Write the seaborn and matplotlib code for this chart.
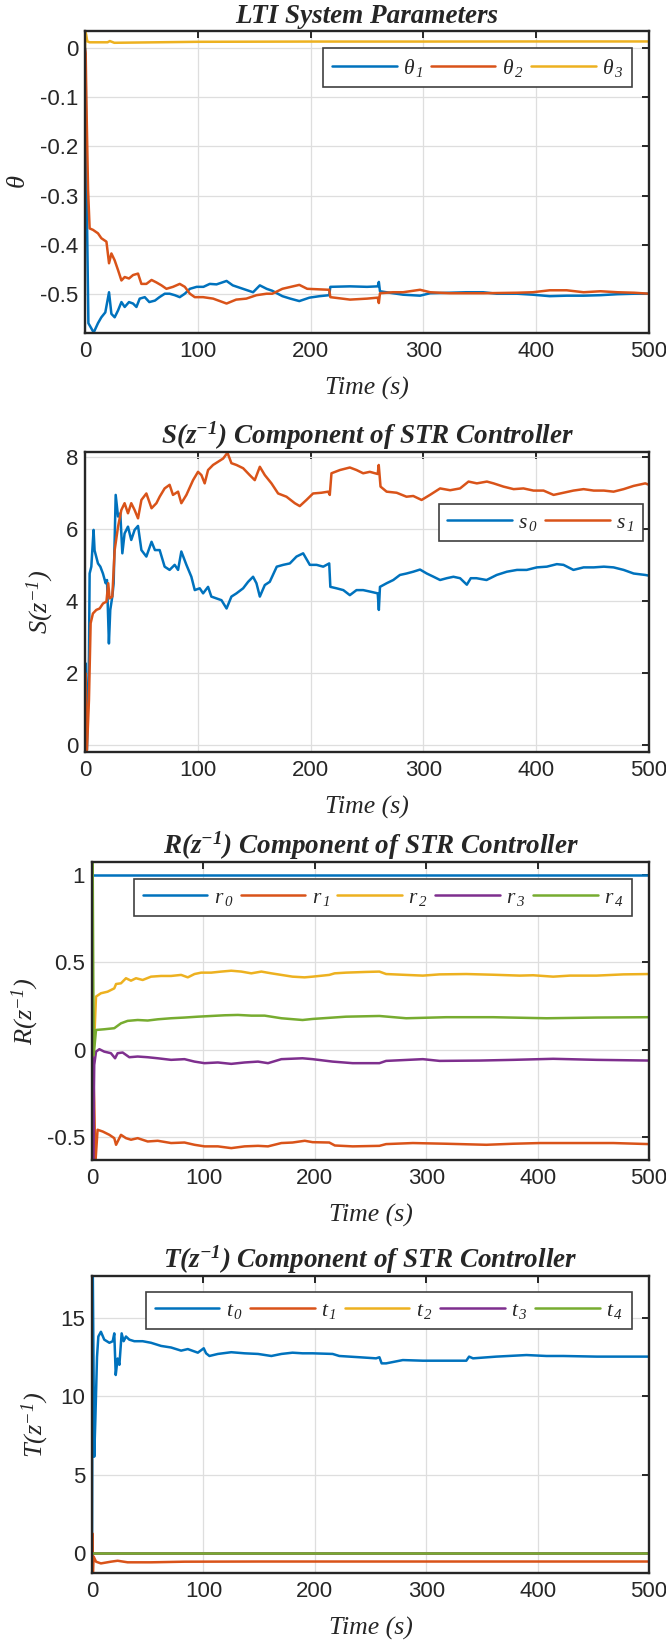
import matplotlib
matplotlib.use("Agg")
import matplotlib.pyplot as plt
import seaborn as sns
from matplotlib.font_manager import FontProperties
from matplotlib.ticker import FuncFormatter

# ---------------- data ----------------
theta1_t = [0, 0.6, 1.5, 3, 7.7, 11.5, 14.5, 18, 21.3, 23.4, 26.3, 29.3, 32.3, 35.2, 39, 42.6, 45.6, 48.5, 53, 57,
            62, 66, 70.7, 75, 79.6, 84, 88.5, 93, 99, 105, 110.6, 116.6, 125.5, 131, 140, 149, 155, 161, 166, 175,
            182, 190, 199, 208, 216.5, 217.5, 235, 250, 259.5, 260.5, 261.5, 273, 282, 297, 306, 323, 338, 353, 365, 383,
            397, 412, 427, 442, 457, 472, 487, 500]
theta1_v = [0, -0.05, -0.3, -0.56, -0.579, -0.56, -0.548, -0.538, -0.497, -0.541, -0.548, -0.534, -0.517, -0.527, -0.517,
            -0.52, -0.527, -0.51, -0.507, -0.517, -0.514, -0.507, -0.5, -0.5, -0.503, -0.507, -0.5, -0.49, -0.486, -0.486,
            -0.48, -0.481, -0.474, -0.483, -0.49, -0.497, -0.483, -0.49, -0.494, -0.505, -0.51, -0.515, -0.508, -0.505,
            -0.503, -0.486, -0.485, -0.486, -0.485, -0.476, -0.495, -0.499, -0.502, -0.504, -0.499, -0.498, -0.497,
            -0.497, -0.5, -0.5, -0.502, -0.505, -0.504, -0.504, -0.503, -0.501, -0.5, -0.5]
theta2_t = [0, 0.6, 1.2, 2.7, 4.1, 7.1, 11.5, 14.5, 19, 21.3, 23.4, 26.3, 29.3, 32.3, 35.2, 39, 42.6, 47, 50, 54.4,
            59, 63.3, 67.8, 72.2, 78, 84, 88.5, 93, 97.3, 104.7, 113.6, 125.5, 134, 143, 152, 161, 166, 175, 190, 197,
            216.5, 217.5, 235, 250, 259.5, 260.5, 261.5, 273, 282, 297, 306, 323, 353, 383, 397, 412, 427, 442, 457, 472,
            487, 500]
theta2_v = [0, -0.01, -0.104, -0.288, -0.367, -0.37, -0.377, -0.387, -0.394, -0.438, -0.418, -0.432, -0.452, -0.473,
            -0.466, -0.469, -0.462, -0.459, -0.48, -0.48, -0.472, -0.477, -0.483, -0.49, -0.486, -0.48, -0.486, -0.5,
            -0.507, -0.507, -0.51, -0.52, -0.512, -0.51, -0.503, -0.5, -0.5, -0.49, -0.482, -0.49, -0.492, -0.507,
            -0.512, -0.51, -0.508, -0.519, -0.499, -0.497, -0.497, -0.492, -0.497, -0.499, -0.499, -0.498, -0.497,
            -0.493, -0.493, -0.497, -0.495, -0.497, -0.498, -0.5]
theta3_t = [0, 0.3, 1, 2, 4, 20, 22, 26, 100, 200, 300, 400, 500]
theta3_v = [0, 0.034, 0.028, 0.014, 0.012, 0.012, 0.0145, 0.011, 0.013, 0.0135, 0.0135, 0.0137, 0.0137]

s0_t = [0, 0.5, 1.7, 3.5, 4.1, 5.6, 7.6, 8.5, 11.5, 13.6, 15.9, 18.3, 19.5, 21.2, 22.4, 24.2, 25.4, 27.2, 29.3, 31.3,
        33.1, 35.1, 38.1, 41, 44, 47, 50, 54.4, 59, 62, 66.2, 70.6, 75, 79.5, 82.5, 85.4, 89.9, 94.3, 97.3, 101.7,
        104.7, 109.1, 112, 116.5, 121, 125.5, 129.8, 134.3, 140.2, 144.6, 149, 152, 155, 159.4, 163.8, 170, 175.7,
        181.6, 187.5, 193.4, 199.3, 205.3, 211.2, 216.5, 217.5, 223, 229, 234.8, 240.7, 246.6, 252.5, 259.5, 260.5,
        261.5, 267.4, 273.3, 279.2, 285, 291, 297, 303, 309, 314.8, 320.7, 326.6, 332.5, 338.5, 342, 347, 356, 365,
        374, 383, 391.6, 400.5, 409.4, 418.3, 424.2, 433, 442, 451, 460, 468.6, 477.5, 486.4, 496.7, 500]
s0_v = [0, 2.27, -0.14, 2.45, 4.76, 4.95, 5.97, 5.4, 5.04, 4.95, 4.76, 4.49, 4.58, 2.82, 3.75, 4.12, 4.49, 6.94, 6.34,
        6.43, 5.32, 5.87, 6.06, 5.69, 5.97, 6.08, 5.41, 5.23, 5.64, 5.41, 5.41, 4.95, 4.86, 5.0, 4.86, 5.37, 5.0, 4.67,
        4.3, 4.35, 4.21, 4.39, 4.12, 4.07, 4.02, 3.79, 4.12, 4.21, 4.35, 4.53, 4.67, 4.49, 4.12, 4.44, 4.53, 4.95, 5.0,
        5.04, 5.23, 5.32, 5.0, 5.0, 4.95, 5.04, 4.39, 4.35, 4.3, 4.16, 4.3, 4.3, 4.26, 4.21, 3.75, 4.39, 4.49, 4.58,
        4.72, 4.76, 4.81, 4.87, 4.76, 4.67, 4.58, 4.63, 4.67, 4.63, 4.45, 4.63, 4.63, 4.58, 4.72, 4.81, 4.86, 4.86,
        4.93, 4.95, 5.02, 5.0, 4.86, 4.93, 4.93, 4.95, 4.93, 4.86, 4.76, 4.72, 4.7]
s1_t = [0, 0.5, 1.7, 3.5, 5, 7, 10, 13, 16, 19, 20.6, 21.8, 24.2, 26.3, 29.3, 32.2, 35.1, 38.1, 41, 44, 47, 50, 54.4,
        59, 63.3, 66.2, 70.6, 75, 78, 82.5, 85.4, 89.9, 95.8, 100.2, 103.2, 106.1, 109.1, 113.5, 118, 122.5, 126.3,
        129.8, 134.3, 140.2, 146, 150.5, 155, 159.4, 165.3, 171.2, 178.6, 186, 190.4, 196.3, 202.2, 209.6, 215.6,
        217, 218.5, 226, 234.8, 240.7, 246.6, 252.5, 259.5, 260.4, 262, 267.4, 276.3, 285, 291, 298.4, 305.8, 314.8,
        323.7, 332.5, 340, 347.4, 356.3, 362.2, 371, 380, 388.7, 397.6, 406.5, 415.4, 424.2, 433, 442, 451, 460,
        468.6, 477.5, 486.4, 496.7, 500]
s1_v = [0, 1.99, -0.14, 1.25, 3.38, 3.65, 3.75, 3.79, 3.93, 3.98, 4.49, 4.07, 4.12, 5.41, 6.06, 6.52, 6.71, 6.43, 6.71,
        6.52, 6.29, 6.8, 6.98, 6.57, 6.71, 6.89, 7.12, 7.22, 6.94, 7.03, 6.71, 6.94, 7.35, 7.58, 7.49, 7.26, 7.63, 7.77,
        7.86, 7.95, 8.11, 7.82, 7.77, 7.68, 7.49, 7.35, 7.72, 7.49, 7.26, 6.98, 6.89, 6.71, 6.63, 6.8, 6.98, 7.0, 7.03,
        6.94, 7.54, 7.63, 7.7, 7.63, 7.54, 7.58, 7.52, 7.77, 7.17, 7.03, 7.0, 6.89, 6.91, 6.8, 6.94, 7.12, 7.07, 7.12,
        7.31, 7.26, 7.31, 7.26, 7.17, 7.1, 7.12, 7.06, 7.06, 6.94, 7.0, 7.06, 7.1, 7.06, 7.06, 7.03, 7.1, 7.19, 7.26,
        7.22]

r0_t = [0, 500]
r0_v = [1, 1]
r1_t = [0, 1, 2, 3, 5, 9.6, 15.6, 20, 21.6, 26, 30.5, 35, 41, 50, 59, 71, 83, 92, 101, 113, 125, 137, 149, 158, 170,
        180, 191, 198, 213, 218, 234, 258, 264, 288, 318, 354, 378, 402, 438, 468, 500]
r1_v = [0, -0.1, -0.3, -0.65, -0.457, -0.467, -0.486, -0.505, -0.543, -0.486, -0.505, -0.514, -0.505, -0.524, -0.52,
        -0.533, -0.53, -0.543, -0.552, -0.552, -0.562, -0.552, -0.549, -0.552, -0.533, -0.53, -0.52, -0.528, -0.53,
        -0.547, -0.552, -0.549, -0.539, -0.533, -0.537, -0.543, -0.537, -0.533, -0.533, -0.533, -0.539]
r2_t = [0, 1.5, 3.6, 8, 14, 20, 21.6, 26, 30.5, 35, 39.5, 45.5, 53, 62, 71, 80, 86, 92, 98, 107, 116, 125, 134, 143,
        152, 161, 170, 180, 190.8, 198, 213, 217.8, 228, 246, 258, 264, 282, 297, 312, 336, 360, 384, 396, 414, 429,
        453, 477, 500]
r2_v = [0, -0.02, 0.305, 0.324, 0.333, 0.352, 0.377, 0.381, 0.41, 0.396, 0.41, 0.4, 0.419, 0.423, 0.423, 0.429, 0.415,
        0.434, 0.442, 0.442, 0.448, 0.453, 0.448, 0.438, 0.448, 0.438, 0.429, 0.419, 0.415, 0.419, 0.429, 0.438,
        0.442, 0.446, 0.448, 0.434, 0.429, 0.425, 0.432, 0.434, 0.43, 0.425, 0.427, 0.419, 0.425, 0.425, 0.432, 0.434]
r3_t = [0, 0.5, 1, 2, 3.6, 6.6, 11, 17, 20.7, 23, 27.5, 33.5, 41, 50, 59, 71, 83, 92, 101, 113, 125, 137, 149, 158,
        170, 189, 198, 216, 234, 258, 264, 297, 312, 348, 378, 414, 453, 500]
r3_v = [0, -0.05, -0.65, -0.086, -0.01, 0.004, -0.01, -0.019, -0.048, -0.019, -0.015, -0.042, -0.038, -0.042, -0.048,
        -0.057, -0.053, -0.067, -0.076, -0.072, -0.08, -0.072, -0.067, -0.076, -0.053, -0.048, -0.053, -0.067,
        -0.076, -0.076, -0.063, -0.053, -0.063, -0.061, -0.057, -0.051, -0.057, -0.061]
r4_t = [0, 0.5, 1.5, 3.6, 11, 20, 26, 32, 41, 50, 59, 71, 83, 95, 107, 119, 131, 143, 155, 170, 189, 198, 228, 258,
        282, 318, 360, 408, 453, 500]
r4_v = [0, 1.2, -0.03, 0.114, 0.118, 0.124, 0.152, 0.166, 0.171, 0.168, 0.175, 0.181, 0.185, 0.19, 0.194, 0.198, 0.2,
        0.196, 0.196, 0.181, 0.171, 0.177, 0.19, 0.194, 0.181, 0.187, 0.187, 0.181, 0.185, 0.187]

t0_t = [0, 0.6, 2, 3, 4.5, 5.7, 8, 11, 15.6, 18.6, 20, 21.3, 23, 24.6, 26.6, 28.4, 30.5, 33.5, 38, 45.5, 53, 62, 71,
        80, 86, 95, 100.3, 102.4, 105.4, 113, 125, 137, 149, 161, 170, 180, 189, 198, 216, 222, 240, 255, 258, 260,
        264, 279, 297, 318, 336, 338.5, 342, 363, 390, 408, 423, 453, 500]
t0_v = [0, 19.0, 6.15, 8.5, 12.5, 13.8, 14.1, 13.6, 13.4, 13.5, 14.0, 11.35, 12.4, 12.0, 14.0, 13.5, 13.8, 13.6, 13.5,
        13.5, 13.4, 13.2, 13.1, 12.9, 13.0, 12.77, 13.05, 12.73, 12.56, 12.69, 12.8, 12.73, 12.69, 12.56, 12.69,
        12.77, 12.73, 12.73, 12.69, 12.56, 12.48, 12.41, 12.48, 12.09, 12.09, 12.3, 12.26, 12.26, 12.26, 12.52,
        12.41, 12.52, 12.62, 12.56, 12.56, 12.52, 12.52]
t1_t = [0, 0.3, 0.8, 1.5, 3.6, 8, 17, 23, 32, 53, 83, 150, 250, 350, 500]
t1_v = [0, 1.27, -1.3, -0.21, -0.53, -0.64, -0.53, -0.47, -0.57, -0.57, -0.53, -0.52, -0.52, -0.52, -0.52]
t2_t = [0, 500]
t2_v = [0, 0]
t3_t = [0, 500]
t3_v = [0, 0]
t4_t = [0, 500]
t4_v = [0, 0]

time_ticks = [0, 100, 200, 300, 400, 500]
theta_ticks = [-0.5, -0.4, -0.3, -0.2, -0.1, 0]
s_ticks = [0, 2, 4, 6, 8]
r_ticks = [-0.5, 0, 0.5, 1]
t_ticks = [0, 5, 10, 15]

# ---------------- style ----------------
sns.set_theme(style="white")
plt.rcParams.update({
    "font.family": ["Liberation Sans", "DejaVu Sans"],
    "axes.unicode_minus": False,
    "mathtext.fontset": "custom",
    "mathtext.rm": "Liberation Serif:italic",
    "mathtext.it": "Liberation Serif:italic",
    "mathtext.bf": "Liberation Serif:bold:italic",
})

C = ["#0072BD", "#D95319", "#EDB120", "#7E2F8E", "#77AC30"]
DARK = "#262626"
W, H = 666, 1641

fig = plt.figure(figsize=(W / 100, H / 100), dpi=100)
fig.patch.set_facecolor("white")

serif_it = dict(family="Liberation Serif", style="italic")
leg_font = FontProperties(family="Liberation Serif", style="italic", size=15.5)


def make_axes(l, t, r, b):
    return fig.add_axes([l / W, 1 - b / H, (r - l) / W, (b - t) / H])


def draw(ax, series, labels):
    for i, (tt, vv) in enumerate(series):
        sns.lineplot(x=tt, y=vv, ax=ax, color=C[i], lw=1.8, label=labels[i],
                     estimator=None, sort=False, errorbar=None)


def style(ax, box, ylim, yticks, title, ylabel, ylab_right_px, legbox, ncol):
    l, t, r, b = box
    ax.set_xlim(0, 500)
    ax.set_ylim(*ylim)
    ax.set_xticks(time_ticks)
    ax.set_yticks(yticks)
    ax.yaxis.set_major_formatter(FuncFormatter(lambda v, p: "%g" % round(v, 6)))
    ax.grid(True, color="#dedede", lw=0.9)
    ax.set_axisbelow(True)
    for s in ax.spines.values():
        s.set_color(DARK)
        s.set_linewidth(1.7)
    ax.tick_params(direction="in", top=True, right=True, length=5, width=1.4,
                   color=DARK, labelcolor=DARK, labelsize=16)
    ax.tick_params(axis="x", pad=6)
    ax.tick_params(axis="y", pad=5)
    ax.set_title(title, fontsize=19.5, fontweight="bold", pad=6, **serif_it)
    ax.set_xlabel("Time (s)", fontsize=18.5, color=DARK, **serif_it)
    ax.xaxis.set_label_coords(0.5, -44 / (b - t))
    ax.set_ylabel(ylabel, fontsize=19, color=DARK, **serif_it)
    ax.yaxis.set_label_coords((ylab_right_px - l) / (r - l), 0.5)
    handles, labs = ax.get_legend_handles_labels()
    lr, lt = legbox
    leg = ax.legend(handles, labs, ncol=ncol, loc="upper right",
                    bbox_to_anchor=(lr / W, 1 - lt / H), bbox_transform=fig.transFigure,
                    frameon=True, fancybox=False, framealpha=1, edgecolor="#404040",
                    prop=leg_font, handlelength=3.0, handletextpad=0.3, columnspacing=0.35,
                    borderpad=0.4, borderaxespad=0)
    leg.get_frame().set_linewidth(1.2)


# Panel 1
box1 = (85, 31, 649, 333)
ax1 = make_axes(*box1)
draw(ax1, [(theta1_t, theta1_v), (theta2_t, theta2_v), (theta3_t, theta3_v)],
     [r"$\theta_{\,1}$", r"$\theta_{\,2}$", r"$\theta_{\,3}$"])
style(ax1, box1, (-0.58, 0.035), theta_ticks, "LTI System Parameters", r"$\theta$", 30,
      (632, 48), 3)

# Panel 2
box2 = (85, 452, 649, 752)
ax2 = make_axes(*box2)
draw(ax2, [(s0_t, s0_v), (s1_t, s1_v)], [r"$s_{\,0}$", r"$s_{\,1}$"])
style(ax2, box2, (-0.19, 8.13), s_ticks, r"S(z$^{\mathbf{-1}}$) Component of STR Controller",
      r"S(z$^{-1}$)", 56, (643, 504), 2)

# Panel 3
box3 = (92, 862, 649, 1160)
ax3 = make_axes(*box3)
draw(ax3, [(r0_t, r0_v), (r1_t, r1_v), (r2_t, r2_v), (r3_t, r3_v), (r4_t, r4_v)],
     [r"$r_{\,0}$", r"$r_{\,1}$", r"$r_{\,2}$", r"$r_{\,3}$", r"$r_{\,4}$"])
style(ax3, box3, (-0.63, 1.075), r_ticks, r"R(z$^{\mathbf{-1}}$) Component of STR Controller",
      r"R(z$^{-1}$)", 41, (632, 879), 5)

# Panel 4
box4 = (92, 1276, 649, 1573)
ax4 = make_axes(*box4)
draw(ax4, [(t0_t, t0_v), (t1_t, t1_v), (t2_t, t2_v), (t3_t, t3_v), (t4_t, t4_v)],
     [r"$t_{\,0}$", r"$t_{\,1}$", r"$t_{\,2}$", r"$t_{\,3}$", r"$t_{\,4}$"])
style(ax4, box4, (-1.25, 17.65), t_ticks, r"T(z$^{\mathbf{-1}}$) Component of STR Controller",
      r"T(z$^{-1}$)", 51, (632, 1292), 5)

fig.savefig("out.png", dpi=100, facecolor="white")
